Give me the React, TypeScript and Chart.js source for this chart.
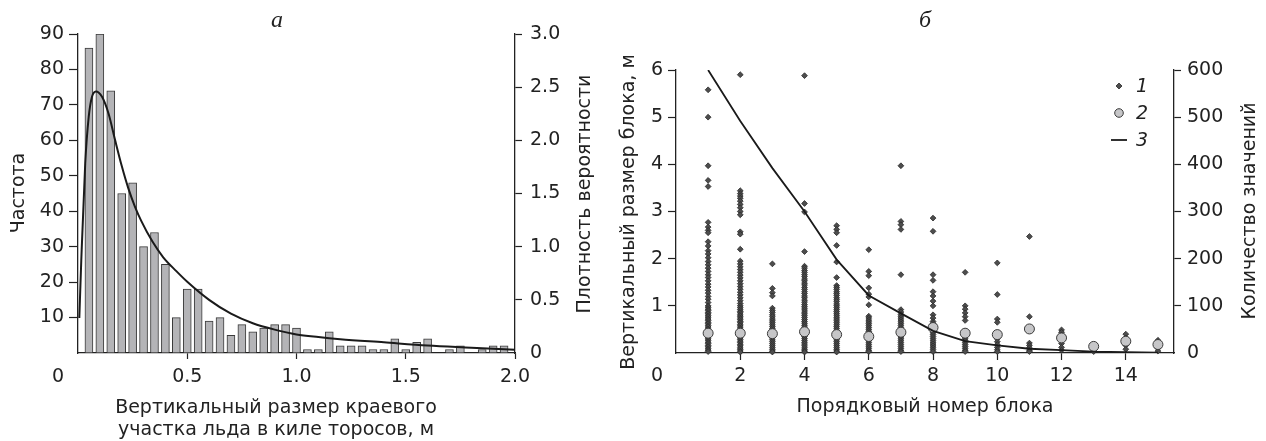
import { useEffect, useRef } from 'react';
import { Chart, registerables } from 'chart.js';

Chart.register(...registerables);

const FONT = "'DejaVu Sans', 'Liberation Sans', Arial, sans-serif";
const INK = '#222222';
const TICK_SIZE = 19;

// ---------- Panel а: histogram + density ----------
const binCenters = [
  0.05, 0.1, 0.15, 0.2, 0.25, 0.3, 0.35, 0.4, 0.45, 0.5,
  0.55, 0.6, 0.65, 0.7, 0.75, 0.8, 0.85, 0.9, 0.95, 1.0,
  1.05, 1.1, 1.15, 1.2, 1.25, 1.3, 1.35, 1.4, 1.45, 1.5,
  1.55, 1.6, 1.65, 1.7, 1.75, 1.8, 1.85, 1.9, 1.95,
];
const binCounts = [
  86, 90, 74, 45, 48, 30, 34, 25, 10, 18,
  18, 9, 10, 5, 8, 6, 7, 8, 8, 7,
  1, 1, 6, 2, 2, 2, 1, 1, 4, 1,
  3, 4, 0, 1, 2, 0, 1, 2, 2,
];
const densityX = [
  0.006, 0.015, 0.033, 0.049, 0.064, 0.082, 0.11, 0.14, 0.17, 0.2,
  0.23, 0.26, 0.29, 0.34, 0.39, 0.45, 0.5, 0.6, 0.7, 0.8,
  0.9, 1.0, 1.1, 1.2, 1.4, 1.6, 1.8, 2.0,
];
const densityY = [
  0.33, 0.87, 1.78, 2.22, 2.41, 2.46, 2.41, 2.25, 2.0, 1.76,
  1.55, 1.38, 1.24, 1.05, 0.9, 0.77, 0.67, 0.5, 0.37, 0.28,
  0.22, 0.175, 0.15, 0.13, 0.1, 0.07, 0.05, 0.03,
];

// ---------- Panel б: blocks ----------
const blockNumbers = [1, 2, 3, 4, 5, 6, 7, 8, 9, 10, 11, 12, 13, 14, 15];
const block1 = [5.58, 5.0, 3.97, 3.66, 3.53, 2.77, 2.67, 2.6, 2.55, 2.36, 2.27, 2.17, 2.1, 2.02,
  1.94, 1.87, 1.8, 1.73, 1.66, 1.6, 1.53, 1.46, 1.4, 1.33, 1.27, 1.2, 1.14, 1.07, 1.0,
  0.97, 0.93, 0.9, 0.86, 0.83, 0.79, 0.76, 0.72, 0.69, 0.65, 0.62, 0.58, 0.55, 0.51, 0.48,
  0.44, 0.41, 0.37, 0.34, 0.3, 0.27, 0.23, 0.2, 0.16, 0.13, 0.09, 0.06, 0.03];
const block2 = [5.9, 3.44, 3.38, 3.33, 3.28, 3.22, 3.15, 3.08, 3.0, 2.93, 2.57, 2.52, 2.2,
  1.95, 1.89, 1.83, 1.77, 1.71, 1.65, 1.59, 1.53, 1.47, 1.41, 1.35, 1.29, 1.23, 1.17, 1.11, 1.05,
  1.0, 0.96, 0.92, 0.88, 0.85, 0.81, 0.78, 0.74, 0.71, 0.67, 0.64, 0.6, 0.57, 0.53, 0.5,
  0.46, 0.43, 0.39, 0.36, 0.32, 0.29, 0.25, 0.22, 0.18, 0.15, 0.11, 0.08, 0.04, 0.02];
const block3 = [1.89, 1.37, 1.28, 1.21, 0.95, 0.9, 0.86, 0.81, 0.77, 0.72, 0.68, 0.64, 0.6,
  0.56, 0.52, 0.48, 0.44, 0.4, 0.36, 0.32, 0.28, 0.24, 0.2, 0.16, 0.12, 0.08, 0.04, 0.02];
const block4 = [5.88, 3.17, 2.99, 2.15, 1.84, 1.8, 1.75, 1.71, 1.66, 1.62, 1.57, 1.53, 1.48,
  1.44, 1.39, 1.35, 1.3, 1.26, 1.21, 1.17, 1.12, 1.08, 1.03, 0.99, 0.95, 0.91, 0.87, 0.83,
  0.79, 0.75, 0.71, 0.67, 0.63, 0.59, 0.55, 0.51, 0.47, 0.43, 0.39, 0.35, 0.31, 0.27, 0.23,
  0.19, 0.15, 0.11, 0.07, 0.04, 0.02];
const block5 = [2.7, 2.62, 2.55, 2.28, 1.93, 1.6, 1.43, 1.39, 1.35, 1.3, 1.26, 1.22, 1.17,
  1.13, 1.09, 1.04, 1.0, 0.96, 0.92, 0.88, 0.84, 0.8, 0.76, 0.72, 0.68, 0.64, 0.6, 0.56,
  0.52, 0.48, 0.44, 0.4, 0.36, 0.32, 0.28, 0.24, 0.2, 0.16, 0.12, 0.08, 0.04, 0.02];
const block6 = [2.19, 1.73, 1.64, 1.38, 1.25, 1.19, 1.02, 0.78, 0.74, 0.7, 0.66, 0.62, 0.58,
  0.54, 0.5, 0.46, 0.42, 0.38, 0.34, 0.3, 0.26, 0.22, 0.18, 0.14, 0.1, 0.06, 0.03];
const block7 = [3.97, 2.79, 2.72, 2.62, 1.66, 0.92, 0.87, 0.82, 0.78, 0.74, 0.7, 0.66, 0.62,
  0.58, 0.54, 0.5, 0.46, 0.42, 0.38, 0.34, 0.3, 0.26, 0.22, 0.18, 0.14, 0.1, 0.06, 0.03];
const block8 = [2.86, 2.58, 1.66, 1.54, 1.3, 1.21, 1.1, 1.0, 0.81, 0.74, 0.67, 0.63, 0.59,
  0.55, 0.51, 0.47, 0.43, 0.39, 0.35, 0.31, 0.27, 0.23, 0.19, 0.15, 0.11, 0.07, 0.03];
const block9 = [1.71, 1.0, 0.93, 0.85, 0.77, 0.69, 0.46, 0.42, 0.38, 0.34, 0.3, 0.26, 0.22,
  0.18, 0.14, 0.1, 0.06, 0.03];
const block10 = [1.91, 1.24, 0.72, 0.65, 0.4, 0.3, 0.24, 0.18, 0.12, 0.07, 0.03];
const block11 = [2.47, 0.77, 0.21, 0.16, 0.11, 0.06, 0.03];
const block12 = [0.49, 0.44, 0.38, 0.2, 0.12, 0.06];
const block13 = [0.07, 0.03];
const block14 = [0.4, 0.32, 0.16, 0.08];
const block15 = [0.27, 0.1, 0.04];
const blockValues = [block1, block2, block3, block4, block5, block6, block7, block8,
  block9, block10, block11, block12, block13, block14, block15];
const blockMeans = [0.42, 0.42, 0.41, 0.45, 0.39, 0.35, 0.44, 0.54, 0.42, 0.39, 0.51, 0.32, 0.14, 0.25, 0.18];
const blockCounts = [600, 492, 392, 300, 198, 122, 84, 47, 25, 16, 9, 6, 3, 2, 1];
const legendLabels = ['1', '2', '3'];

// ---------- plugins ----------
type TextItem = { text: string; x: number; y: number; font: string; rotate?: number; align?: CanvasTextAlign; baseline?: CanvasTextBaseline };

const freeText = {
  id: 'freeText',
  afterDraw(chart: any, _args: any, opts: any) {
    const ctx: CanvasRenderingContext2D = chart.ctx;
    for (const t of (opts.items || []) as TextItem[]) {
      ctx.save();
      ctx.font = t.font;
      ctx.fillStyle = INK;
      ctx.textAlign = t.align || 'center';
      ctx.textBaseline = t.baseline || 'alphabetic';
      ctx.translate(t.x, t.y);
      if (t.rotate) ctx.rotate(t.rotate);
      ctx.fillText(t.text, 0, 0);
      ctx.restore();
    }
  },
};

const blockLegend = {
  id: 'blockLegend',
  afterDraw(chart: any, _args: any, opts: any) {
    if (!opts || !opts.display) return;
    const ctx: CanvasRenderingContext2D = chart.ctx;
    const ds = chart.data.datasets;
    const x = opts.x, y0 = opts.y, gap = opts.gap;
    ctx.save();
    const d = ds[0];
    const r = 3;
    ctx.beginPath();
    ctx.moveTo(x, y0 - r); ctx.lineTo(x + r, y0); ctx.lineTo(x, y0 + r); ctx.lineTo(x - r, y0); ctx.closePath();
    ctx.fillStyle = d.backgroundColor; ctx.fill();
    ctx.lineWidth = d.borderWidth; ctx.strokeStyle = d.borderColor; ctx.stroke();
    const m = ds[1];
    ctx.beginPath();
    ctx.arc(x, y0 + gap, 4.3, 0, Math.PI * 2);
    ctx.fillStyle = m.backgroundColor; ctx.fill();
    ctx.lineWidth = m.borderWidth; ctx.strokeStyle = m.borderColor; ctx.stroke();
    const l = ds[2];
    ctx.beginPath();
    ctx.moveTo(x - 8, y0 + 2 * gap); ctx.lineTo(x + 8, y0 + 2 * gap);
    ctx.lineWidth = l.borderWidth; ctx.strokeStyle = l.borderColor; ctx.stroke();
    ctx.font = `italic ${TICK_SIZE}px ${FONT}`;
    ctx.fillStyle = INK;
    ctx.textAlign = 'left';
    ctx.textBaseline = 'middle';
    legendLabels.forEach((t, i) => ctx.fillText(t, x + 17, y0 + i * gap + 1));
    ctx.restore();
  },
};

const hideZeroTick = (c: any) => (c.tick && c.tick.value === 0 ? 'rgba(0,0,0,0)' : INK);

function axis(extra: any, tickLength: number, padding: number, fit: (s: any) => void) {
  return {
    type: 'linear',
    offset: false,
    ...extra,
    ticks: {
      autoSkip: false,
      maxRotation: 0,
      includeBounds: false,
      color: INK,
      padding,
      font: { family: FONT, size: TICK_SIZE },
      ...(extra.ticks || {}),
    },
    grid: { drawOnChartArea: false, offset: false, tickLength, tickWidth: 1.2, tickColor: hideZeroTick },
    border: { display: true, color: INK, width: 1.3 },
    afterFit: fit,
  };
}

const TITLE_FONT = `${TICK_SIZE}px ${FONT}`;
const PANEL_FONT = 'italic 24px "Liberation Serif", "DejaVu Serif", serif';

function configA(): any {
  return {
    type: 'bar',
    data: {
      datasets: [
        {
          type: 'line',
          label: 'density',
          data: densityX.map((x, i) => ({ x, y: densityY[i] })),
          xAxisID: 'x',
          yAxisID: 'y2',
          borderColor: '#1a1a1a',
          borderWidth: 2,
          pointRadius: 0,
          cubicInterpolationMode: 'monotone',
          fill: false,
          order: 0,
        },
        {
          type: 'bar',
          label: 'count',
          data: binCenters.map((x, i) => ({ x, y: binCounts[i] })),
          xAxisID: 'x',
          yAxisID: 'y',
          backgroundColor: '#b4b4b7',
          borderColor: '#3a3a3a',
          borderWidth: 1,
          barThickness: 8,
          order: 1,
        },
      ],
    },
    options: {
      responsive: false,
      animation: false,
      devicePixelRatio: 1,
      layout: { padding: { left: 0, right: 0, top: 34, bottom: 28 } },
      plugins: {
        legend: { display: false },
        tooltip: { enabled: false },
        freeText: {
          items: [
            { text: 'а', x: 277, y: 27, font: PANEL_FONT },
            { text: 'Частота', x: 24, y: 193, font: TITLE_FONT, rotate: -Math.PI / 2 },
            { text: 'Плотность вероятности', x: 590, y: 194, font: TITLE_FONT, rotate: -Math.PI / 2 },
            { text: 'Вертикальный размер краевого', x: 276, y: 413, font: TITLE_FONT },
            { text: 'участка льда в киле торосов, м', x: 276, y: 435, font: TITLE_FONT },
            { text: '0', x: 58, y: 377, font: TITLE_FONT, baseline: 'middle' },
          ],
        },
      },
      scales: {
        x: axis({ position: 'bottom', min: 0, max: 2, ticks: { stepSize: 0.5, callback: (v: number) => (v === 0 ? '' : Number(v).toFixed(1)) } }, 6, 7, (s: any) => { s.height = 60; }),
        y: axis({ position: 'left', min: 0, max: 90, ticks: { stepSize: 10, callback: (v: number) => (v === 0 ? '' : String(v)) } }, 9, 5, (s: any) => { s.width = 78; }),
        y2: axis({ position: 'right', min: 0, max: 3, ticks: { stepSize: 0.5, callback: (v: number) => (v === 0 ? '0' : Number(v).toFixed(1)) } }, 7, 8, (s: any) => { s.width = 85; }),
      },
    },
    plugins: [freeText],
  };
}

function configB(): any {
  const points: { x: number; y: number }[] = [];
  blockValues.forEach((vals, i) => vals.forEach((v) => points.push({ x: blockNumbers[i], y: v })));
  return {
    type: 'scatter',
    data: {
      datasets: [
        {
          label: '1',
          data: points,
          yAxisID: 'y',
          pointStyle: 'rectRot',
          pointRadius: 2.9,
          backgroundColor: '#4d4d4d',
          borderColor: '#2a2a2a',
          borderWidth: 0.8,
          clip: false,
          order: 2,
        },
        {
          label: '2',
          data: blockNumbers.map((x, i) => ({ x, y: blockMeans[i] })),
          yAxisID: 'y',
          pointStyle: 'circle',
          pointRadius: 5,
          backgroundColor: '#c6c6c8',
          borderColor: '#3a3a3a',
          borderWidth: 1,
          clip: false,
          order: 1,
        },
        {
          type: 'line',
          label: '3',
          data: blockNumbers.map((x, i) => ({ x, y: blockCounts[i] })),
          yAxisID: 'y2',
          borderColor: '#1a1a1a',
          borderWidth: 1.8,
          pointRadius: 0,
          tension: 0,
          fill: false,
          showLine: true,
          order: 0,
        },
      ],
    },
    options: {
      responsive: false,
      animation: false,
      devicePixelRatio: 1,
      layout: { padding: { left: 0, right: 0, top: 70, bottom: 28 } },
      plugins: {
        legend: { display: false },
        tooltip: { enabled: false },
        blockLegend: { display: true, x: 519, y: 86, gap: 27 },
        freeText: {
          items: [
            { text: 'б', x: 325, y: 27, font: PANEL_FONT },
            { text: 'Вертикальный размер блока, м', x: 34, y: 212, font: TITLE_FONT, rotate: -Math.PI / 2 },
            { text: 'Количество значений', x: 655, y: 211, font: TITLE_FONT, rotate: -Math.PI / 2 },
            { text: 'Порядковый номер блока', x: 325, y: 412, font: TITLE_FONT },
            { text: '0', x: 57, y: 376, font: TITLE_FONT, baseline: 'middle' },
          ],
        },
      },
      scales: {
        x: axis({ position: 'bottom', min: 0, max: 15.5, ticks: { stepSize: 2, callback: (v: number) => (v === 0 ? '' : String(v)) } }, 7, 5, (s: any) => { s.height = 60; }),
        y: axis({ position: 'left', min: 0, max: 6, ticks: { stepSize: 1, callback: (v: number) => (v === 0 ? '' : String(v)) } }, 8, 5, (s: any) => { s.width = 76; }),
        y2: axis({ position: 'right', min: 0, max: 600, ticks: { stepSize: 100, callback: (v: number) => String(v) } }, 7, 6, (s: any) => { s.width = 92; }),
      },
    },
    plugins: [freeText, blockLegend],
  };
}

export default function App() {
  const refA = useRef<HTMLCanvasElement>(null);
  const refB = useRef<HTMLCanvasElement>(null);
  useEffect(() => {
    const a = new Chart(refA.current as HTMLCanvasElement, configA());
    const b = new Chart(refB.current as HTMLCanvasElement, configB());
    return () => {
      a.destroy();
      b.destroy();
    };
  }, []);
  return (
    <div style={{ position: 'absolute', left: 0, top: 0, width: 1266, height: 441, background: '#ffffff' }}>
      <canvas ref={refA} width={600} height={441} style={{ position: 'absolute', left: 0, top: 0, width: 600, height: 441 }} />
      <canvas ref={refB} width={666} height={441} style={{ position: 'absolute', left: 600, top: 0, width: 666, height: 441 }} />
    </div>
  );
}
